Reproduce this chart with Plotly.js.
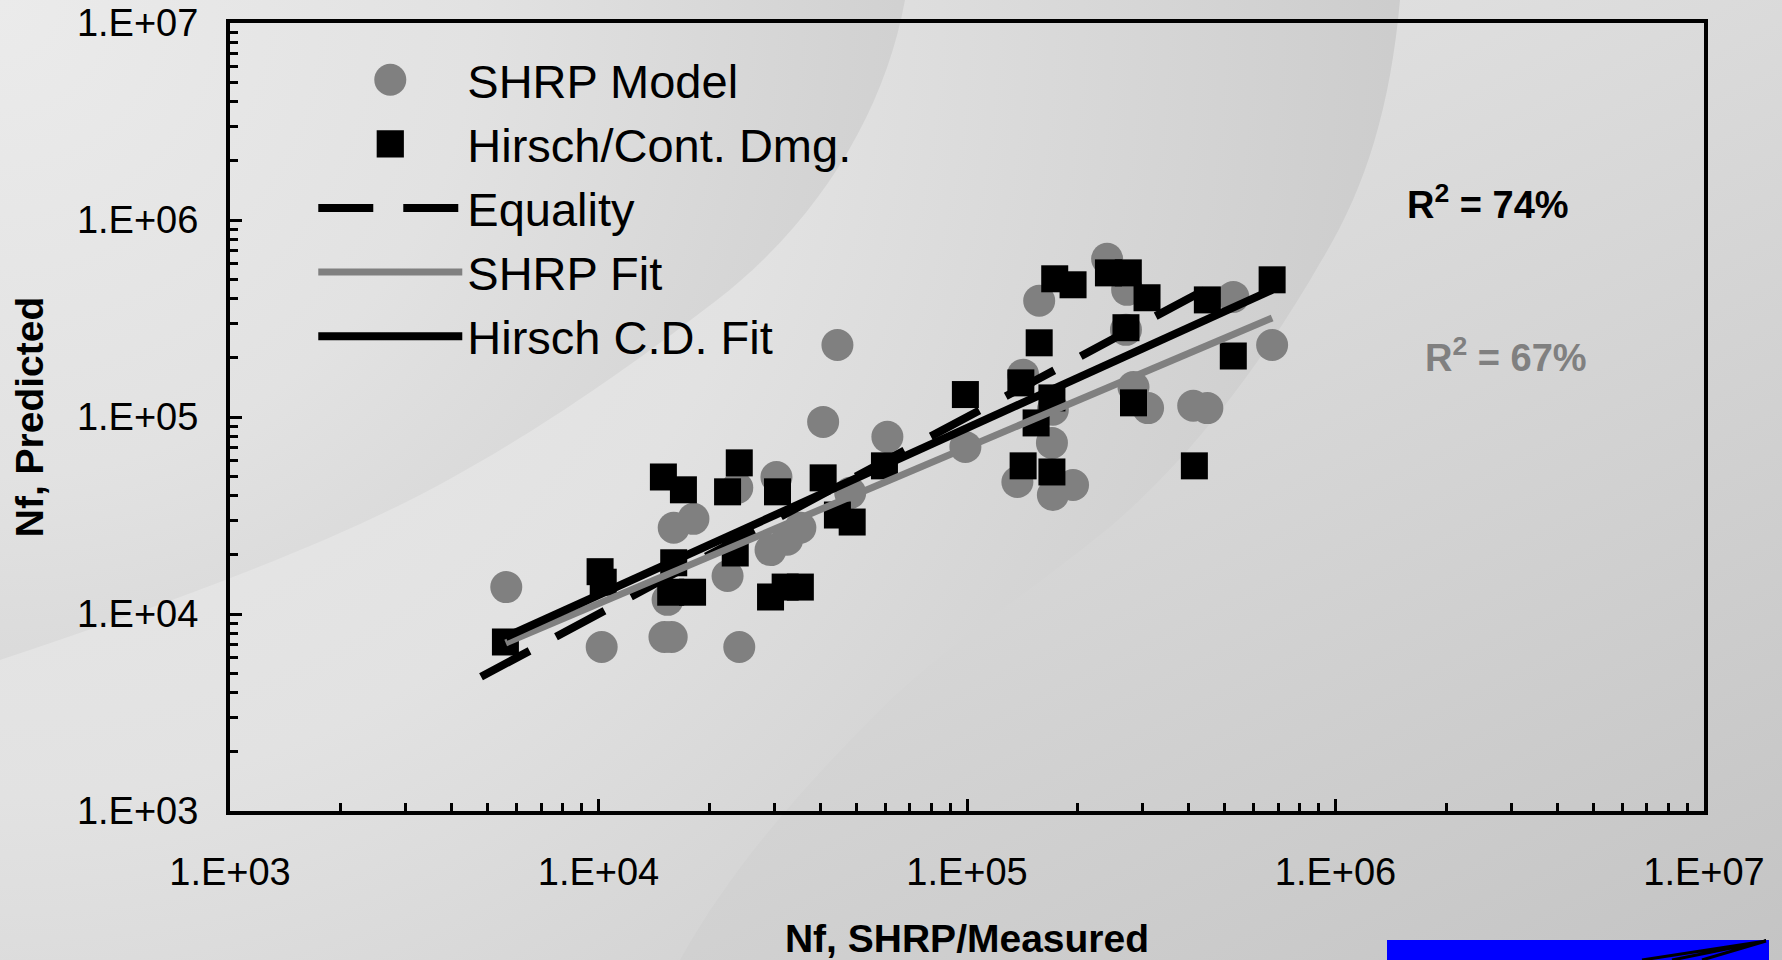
<!DOCTYPE html>
<html>
<head>
<meta charset="utf-8">
<script src="https://cdn.plot.ly/plotly-3.0.1.min.js"></script>
<style>
  html, body { margin: 0; padding: 0; width: 1782px; height: 960px; overflow: hidden; background: #d8d8d8; }
  #wrap { position: relative; width: 1782px; height: 960px; }
  #bg { position: absolute; left: 0; top: 0; }
  #chart { position: absolute; left: 0; top: 0; width: 1782px; height: 960px; }
</style>
</head>
<body>
<div id="wrap">
  <!-- slide backdrop: grey gradient with curved bands -->
  <svg id="bg" width="1782" height="960" viewBox="0 0 1782 960">
    <defs>
      <linearGradient id="gBase" x1="1300" y1="0" x2="1782" y2="960" gradientUnits="userSpaceOnUse">
        <stop offset="0" stop-color="#e0e0e0"/>
        <stop offset="1" stop-color="#c4c4c4"/>
      </linearGradient>
      <radialGradient id="gMid" cx="0" cy="0" r="1450" gradientUnits="userSpaceOnUse">
        <stop offset="0" stop-color="#ececec"/>
        <stop offset="0.55" stop-color="#e2e2e2"/>
        <stop offset="1" stop-color="#cbcbcb"/>
      </radialGradient>
      <radialGradient id="gIn" cx="0" cy="0" r="950" gradientUnits="userSpaceOnUse">
        <stop offset="0" stop-color="#ebebeb"/>
        <stop offset="0.5" stop-color="#e2e2e2"/>
        <stop offset="1" stop-color="#cfcfcf"/>
      </radialGradient>
    </defs>
    <rect x="0" y="0" width="1782" height="960" fill="url(#gBase)"/>
    <path d="M0,0 L1400,0 C1390,110 1365,190 1320,263 C1270,350 1200,450 1110,527 C1020,600 940,650 880,710 C800,790 730,870 680,960 L0,960 Z" fill="url(#gMid)"/>
    <path d="M0,0 L905,0 C885,110 820,220 717,300 C600,390 520,440 448,480 C340,540 180,600 0,660 Z" fill="url(#gIn)"/>
    <rect x="1387" y="940" width="382" height="20" fill="#0000ff"/>
    <path d="M1766,941 L1642,960 M1766,941 L1672,960 M1766,941 L1702,960" stroke="#000" stroke-width="3" fill="none"/>
  </svg>
  <div id="chart"></div>
</div>
<script>
// Fatigue life: SHRP model predictions vs. SHRP (x axis)
const shrpX = [5620, 10200, 15100, 15800, 15400, 16000, 18100, 24100, 22400, 23800,
               30400, 29300, 32500, 35300, 40700, 44500, 48200, 60800, 99000, 142000,
               157000, 171000, 170000, 137000, 171000, 194000, 240000, 272000, 270000, 283000,
               310000, 411000, 449000, 528000, 673000];
const shrpY = [13700, 6800, 7640, 7640, 11800, 27400, 30400, 6800, 15600, 43700,
               49600, 21100, 23800, 27400, 94400, 232000, 41200, 79300, 70500, 164000,
               389000, 109000, 73900, 46800, 40200, 45200, 635000, 442000, 277000, 142000,
               111000, 114000, 111000, 407000, 232000];

// Hirsch / continuum damage predictions vs. measured
const hirschX = [5590, 10100, 10300, 15000, 17000, 16000, 15700, 18000, 24100, 22400,
                 30600, 40700, 44500, 48800, 23500, 29300, 32100, 35300, 59700, 99000,
                 140000, 157000, 173000, 194000, 170000, 154000, 142000, 170000, 242000, 274000,
                 308000, 270000, 283000, 449000, 673000, 528000, 414000];
const hirschY = [7210, 16400, 14500, 49600, 42700, 18200, 12900, 12900, 58500, 41700,
                 41700, 49100, 31800, 29300, 20400, 12200, 13700, 13700, 56500, 130000,
                 149000, 238000, 503000, 469000, 125000, 93300, 56500, 52600, 539000, 539000,
                 403000, 284000, 118000, 393000, 497000, 204000, 56500];

// Reference and fitted lines
const equalityX = [4800, 480000];
const equalityY = [4800, 480000];
const shrpFitX = [5600, 673000];
const shrpFitY = [7130, 318000];
const hirschFitX = [5600, 673000];
const hirschFitY = [7640, 442000];

const seriesNames = ['SHRP Model', 'Hirsch/Cont. Dmg.', 'Equality', 'SHRP Fit', 'Hirsch C.D. Fit'];
const decadeVals = [1e3, 1e4, 1e5, 1e6, 1e7];
const decadeText = ['1.E+03', '1.E+04', '1.E+05', '1.E+06', '1.E+07'];
const r2Labels = ['R<sup>2</sup> = 74%', 'R<sup>2</sup> = 67%'];

// minor ticks at 2..9 within each decade
const minorVals = [];
for (let k = 3; k < 7; k++) {
  for (let m = 2; m <= 9; m++) minorVals.push(m * Math.pow(10, k));
}

const FONT = 'Arial, "Liberation Sans", sans-serif';

const traces = [
  { x: shrpX, y: shrpY, name: seriesNames[0], type: 'scatter', mode: 'markers',
    marker: { symbol: 'circle', size: 32, color: '#808080' } },
  { x: hirschX, y: hirschY, name: seriesNames[1], type: 'scatter', mode: 'markers',
    marker: { symbol: 'square', size: 27, color: '#000000' } },
  { x: equalityX, y: equalityY, name: seriesNames[2], type: 'scatter', mode: 'lines',
    line: { color: '#000000', width: 8, dash: '55px,30px' } },
  { x: shrpFitX, y: shrpFitY, name: seriesNames[3], type: 'scatter', mode: 'lines',
    line: { color: '#808080', width: 7 } },
  { x: hirschFitX, y: hirschFitY, name: seriesNames[4], type: 'scatter', mode: 'lines',
    line: { color: '#000000', width: 8 } }
];

const axisBase = {
  type: 'log', showgrid: false, zeroline: false,
  showline: true, linecolor: '#000', linewidth: 4, mirror: true,
  ticks: 'inside', ticklen: 12, tickwidth: 3, tickcolor: '#000',
  tickmode: 'array', tickvals: decadeVals, ticktext: decadeText,
  tickfont: { family: FONT, size: 38, color: '#000' },
  minor: { tickmode: 'array', tickvals: minorVals, ticks: 'inside', ticklen: 8,
           tickwidth: 3, tickcolor: '#000', showgrid: false }
};

const layout = {
  width: 1782, height: 960,
  paper_bgcolor: 'rgba(0,0,0,0)', plot_bgcolor: 'rgba(0,0,0,0)',
  margin: { l: 230, r: 78, t: 23, b: 149, pad: 0 },
  font: { family: FONT, color: '#000' },
  xaxis: Object.assign({}, axisBase, {
    range: [3, 7], ticklabelstandoff: 24,
    title: { text: 'Nf, SHRP/Measured', standoff: 38,
             font: { family: FONT, size: 39, weight: 'bold', color: '#000' } }
  }),
  yaxis: Object.assign({}, axisBase, {
    range: [3, 7], ticklabelstandoff: 20,
    title: { text: 'Nf, Predicted', standoff: 22,
             font: { family: FONT, size: 39, weight: 'bold', color: '#000' } }
  }),
  showlegend: true,
  legend: {
    x: 0.0565, y: 0.975, xanchor: 'left', yanchor: 'top',
    bgcolor: 'rgba(0,0,0,0)', borderwidth: 0,
    itemwidth: 144, tracegroupgap: 0,
    font: { family: FONT, size: 47, color: '#000' }
  },
  annotations: [
    { xref: 'paper', yref: 'paper', x: 0.8535, y: 0.773, text: r2Labels[0], showarrow: false,
      xanchor: 'center', yanchor: 'middle',
      font: { family: FONT, size: 38, weight: 'bold', color: '#000000' } },
    { xref: 'paper', yref: 'paper', x: 0.8657, y: 0.579, text: r2Labels[1], showarrow: false,
      xanchor: 'center', yanchor: 'middle',
      font: { family: FONT, size: 38, weight: 'bold', color: '#808080' } }
  ]
};

Plotly.newPlot('chart', traces, layout, { displayModeBar: false }).then(function (gd) {
  // enlarge the legend marker swatches to the plotted marker size
  const scales = [2.0, 1.7];
  gd.querySelectorAll('.legend g.traces').forEach(function (g, i) {
    if (i > 1) return;
    g.querySelectorAll('path.scatterpts').forEach(function (p) {
      const t = p.getAttribute('transform') || '';
      p.setAttribute('transform', t + ' scale(' + scales[i] + ')');
    });
  });
});
</script>
</body>
</html>
